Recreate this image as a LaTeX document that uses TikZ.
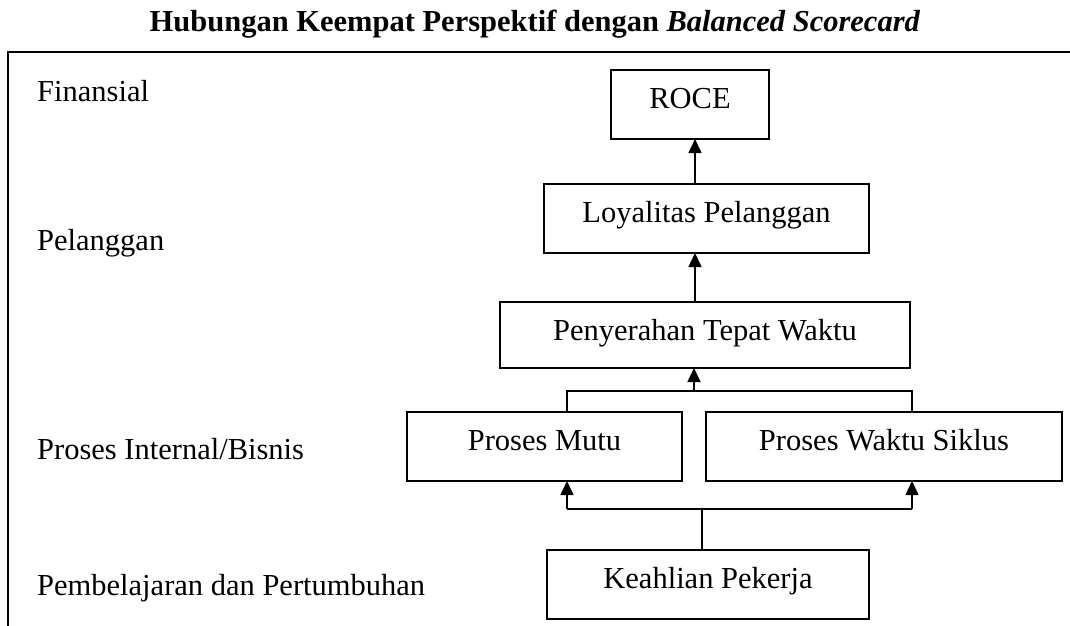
\documentclass[tikz,border=0pt]{standalone}
\usepackage{fontspec}
\setmainfont{Liberation Serif}
\usepackage{tikz}
\usetikzlibrary{arrows.meta,positioning}
\tikzset{box node/.style={rectangle,draw,line width=1.6pt,inner sep=0pt,outer sep=0pt,text height=38pt,text depth=31pt,font=\fontsize{30.5}{36}\selectfont},
side node/.style={anchor=base west,inner sep=0pt,font=\fontsize{30.5}{36}\selectfont},
arr/.style={line width=1.6pt,-{Triangle[length=14pt,width=13pt]}},}

\begin{document}
\begin{tikzpicture}[x=1pt,y=1pt]
    \useasboundingbox (0,0) rectangle (1070,-625);
    \node[anchor=base,inner sep=0pt,font=\fontsize{30.5}{36}\selectfont\bfseries] (title) at (535,-31) {Hubungan Keempat Perspektif dengan \textit{Balanced Scorecard}};
    \draw[line width=1.8pt] (1075,-52) -| (8,-630);

    \node[side node] (fin) at (37,-101) {Finansial};
    \node[side node] (pel) at (37,-250) {Pelanggan};
    \node[side node] (pib) at (37,-459) {Proses Internal/Bisnis};
    \node[side node] (pdp) at (37,-595) {Pembelajaran dan Pertumbuhan};

    \node[box node, minimum width=158pt] (roce) at (690,-104.5) {ROCE};
    \node[box node, minimum width=325pt] (loyal) [below=45pt of roce, xshift=16.5pt] {Loyalitas Pelanggan};
    \node[box node, minimum width=410pt, text depth=28pt] (pen) [below=49pt of loyal, xshift=-1.5pt] {Penyerahan Tepat Waktu};
    \node[box node, minimum width=275pt] (mutu) [below=44pt of pen, xshift=-160.5pt] {Proses Mutu};
    \node[box node, minimum width=356pt] (waktu) [right=24pt of mutu] {Proses Waktu Siklus};
    \node[box node, minimum width=322pt] (keah) [below=69pt of mutu, xshift=163.5pt] {Keahlian Pekerja};

    \coordinate (spine) at (695,0);
    \coordinate (upjoin) at (694,-391);
    \coordinate (downjoin) at (702,-509);
    \coordinate (lx) at (567,0);
    \coordinate (rx) at (912,0);

    \path[arr]
	(loyal.north -| spine) edge (roce.south -| spine)
	(pen.north -| spine) edge (loyal.south -| spine)
	(upjoin) edge (pen.south -| upjoin)
	(lx |- downjoin) edge (mutu.south -| lx)
	(rx |- downjoin) edge (waktu.south -| rx);
    \draw[line width=1.6pt] (mutu.north -| lx) |- (upjoin) -| (waktu.north -| rx);
    \draw[line width=1.6pt] (keah.north -| downjoin) -- (downjoin)
	(lx |- downjoin) -- (rx |- downjoin);
\end{tikzpicture}
\end{document}
